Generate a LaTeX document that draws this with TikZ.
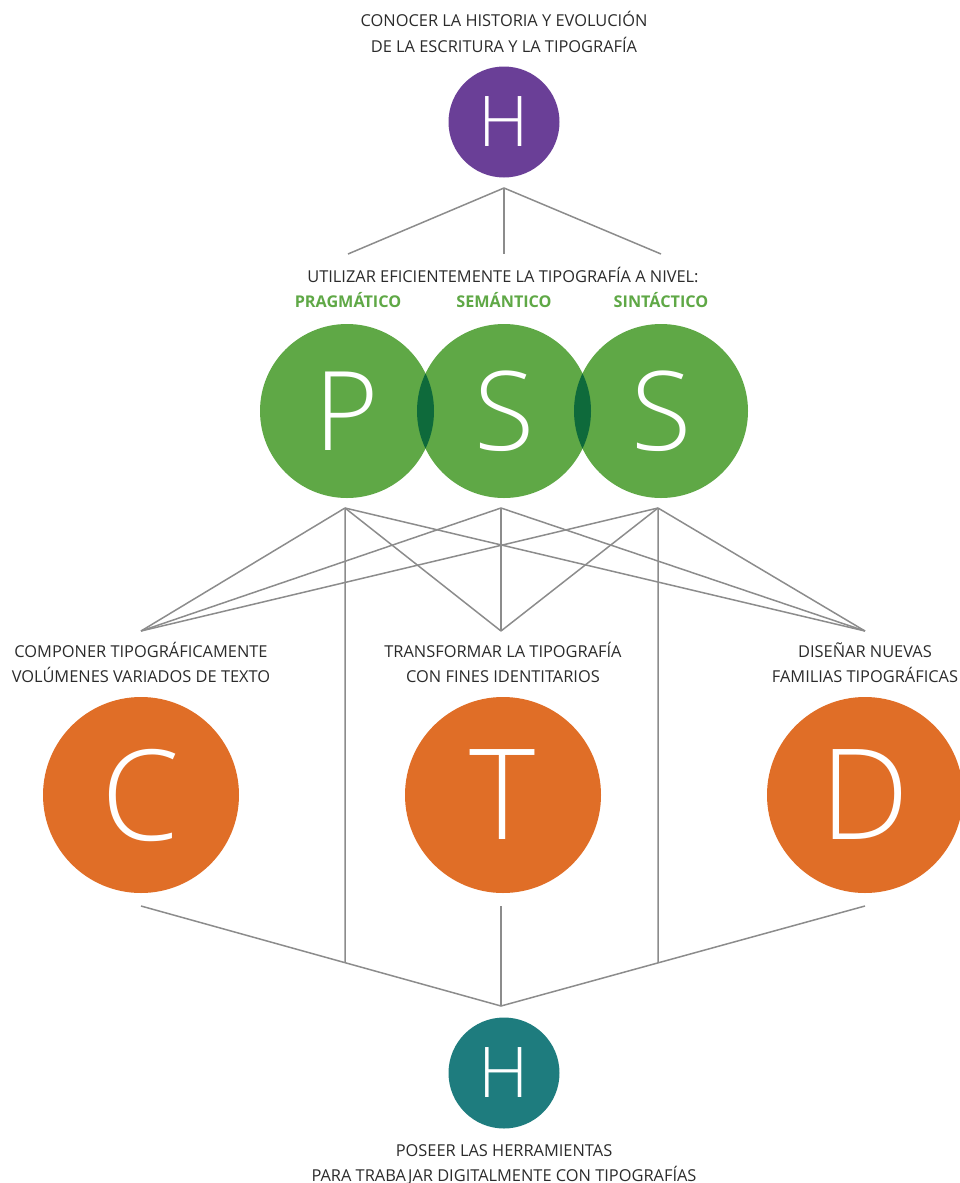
\documentclass[tikz,border=0pt]{standalone}
\usepackage{fontspec}
\usetikzlibrary{calc}
\setmainfont{Open Sans}
\IfFontExistsTF{Open Sans Light}{\newfontfamily\lightfont{Open Sans Light}}{\newfontfamily\lightfont{Open Sans}}
\definecolor{txt}{HTML}{2B2B2B}
\definecolor{grn}{HTML}{5FA846}
\definecolor{dgrn}{HTML}{0E6A3B}
\definecolor{purp}{HTML}{6A3F97}
\definecolor{orng}{HTML}{E06E27}
\definecolor{teal}{HTML}{1E7C7E}
\definecolor{gry}{HTML}{8C8C8C}
\begin{document}
\begin{tikzpicture}[x=1pt,y=-1pt,
  lbl/.style={font=\fontsize{16.4}{19}\selectfont, text=txt, anchor=base, inner sep=0pt},
  glbl/.style={font=\bfseries\fontsize{16.2}{19}\selectfont, text=grn, anchor=base, inner sep=0pt},
  conn/.style={draw=gry, line width=1.5pt},
  ball/.style={circle, inner sep=0pt, text=white},
  small/.style={ball, minimum size=111pt, font=\lightfont\fontsize{70}{70}\selectfont},
  mid/.style={ball, minimum size=174pt, fill=grn, font=\lightfont\fontsize{110}{110}\selectfont},
  big/.style={ball, minimum size=196pt, fill=orng, font=\lightfont\fontsize{126}{126}\selectfont}]
\useasboundingbox (0,0) rectangle (960,1183);

% top
\node[lbl] (t1) at (504,27) {CONOCER LA HISTORIA Y EVOLUCIÓN};
\node[lbl] (t2) at (504,52) {DE LA ESCRITURA Y LA TIPOGRAFÍA};
\node[small, fill=purp] (H1) at (504,122) {H};
\coordinate (hT) at (504,188);
\coordinate (tL) at (348,254);
\coordinate (tM) at (504,254);
\coordinate (tR) at (661,254);
\draw[conn] (tL) -- (hT) -- (tR);
\draw[conn] (hT) -- (tM);

\node[lbl] (u1) at (503,282) {UTILIZAR EFICIENTEMENTE LA TIPOGRAFÍA A NIVEL:};
\node[glbl] (g1) at (348,307) {PRAGMÁTICO};
\node[glbl] (g2) at (504,307) {SEMÁNTICO};
\node[glbl] (g3) at (661,307) {SINTÁCTICO};

% green circles
\node[mid] (P) at (347,411) {P};
\node[mid] (S1) at (504,411) {S};
\node[mid] (S2) at (661,411) {S};
\begin{scope}
  \clip (347,411) circle[radius=87pt];
  \fill[dgrn] (504,411) circle[radius=87pt];
\end{scope}
\begin{scope}
  \clip (504,411) circle[radius=87pt];
  \fill[dgrn] (661,411) circle[radius=87pt];
\end{scope}

% middle network
\coordinate (pP) at (345,508);
\coordinate (pS) at (501,508);
\coordinate (pX) at (658,508);
\coordinate (bC) at (141,631);
\coordinate (bT) at (501,631);
\coordinate (bD) at (865,631);
\foreach \s in {pP,pS,pX}{
  \foreach \e in {bC,bT,bD}{
    \draw[conn] (\s) -- (\e);
  }
}

\node[lbl] (c1) at (141,657) {COMPONER TIPOGRÁFICAMENTE};
\node[lbl] (c2) at (141,682) {VOLÚMENES VARIADOS DE TEXTO};
\node[lbl] (m1) at (503,657) {TRANSFORMAR LA TIPOGRAFÍA};
\node[lbl] (m2) at (503,682) {CON FINES IDENTITARIOS};
\node[lbl] (d1) at (865,657) {DISEÑAR NUEVAS};
\node[lbl] (d2) at (865,682) {FAMILIAS TIPOGRÁFICAS};

% orange circles
\node[big] (C) at (141,795) {C};
\node[big] (T) at (503,795) {T};
\node[big] (D) at (865,795) {D};

% bottom network
\coordinate (cC) at (141,906);
\coordinate (cT) at (501,906);
\coordinate (cD) at (865,906);
\coordinate (hub) at (501,1006);
\coordinate (jL) at ($(cC)!0.5667!(hub)$);
\coordinate (jR) at ($(cD)!0.5687!(hub)$);
\draw[conn] (cC) -- (hub) -- (cD);
\draw[conn] (cT) -- (hub);
\draw[conn] (pP) -- (jL);
\draw[conn] (pX) -- (jR);

\node[small, fill=teal] (H2) at (504,1073) {H};
\node[lbl] (b1) at (504,1156) {POSEER LAS HERRAMIENTAS};
\node[lbl] (b2) at (504,1181) {PARA TRABAJAR DIGITALMENTE CON TIPOGRAFÍAS};
\end{tikzpicture}
\end{document}
